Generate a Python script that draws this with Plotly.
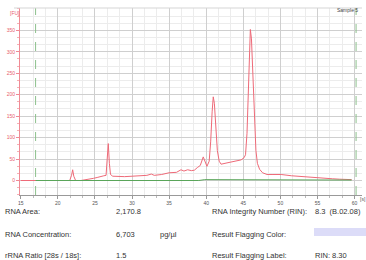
import plotly.graph_objects as go

# Electropherogram trace (time in s, fluorescence in FU)
time_s = [15.0, 17.0, 21.6, 21.85, 22.0, 22.15, 22.4, 23.1, 23.6, 24.2, 24.8, 25.3, 25.8,
          26.2, 26.5, 26.65, 26.8, 26.95, 27.1, 27.4, 28.0, 29.0, 30.0, 31.0, 32.0, 32.6,
          33.0, 34.0, 35.0, 36.0, 36.6, 37.0, 37.5, 38.0, 38.4, 38.8, 39.2, 39.6, 39.9,
          40.1, 40.4, 40.6, 40.8, 40.95, 41.1, 41.3, 41.5, 41.75, 42.0, 42.8, 43.5, 44.2,
          44.7, 45.1, 45.3, 45.5, 45.7, 45.85, 45.95, 46.1, 46.3, 46.5, 46.7, 46.9, 47.2,
          47.6, 48.2, 49.0, 50.1, 51.5, 52.8, 54.0, 55.0, 56.0, 57.0, 58.0, 58.6, 59.6]
fu = [0, 0, 0, 12, 25, 10, 0, 0, 1, 3, 5, 7, 10,
      11, 12, 45, 86, 40, 14, 10, 9, 9, 10, 11, 12, 15,
      12, 14, 18, 19, 25, 22, 25, 23, 24, 30, 35, 55, 40,
      33, 45, 90, 160, 195, 180, 120, 70, 45, 38, 41, 43, 45,
      48, 53, 60, 110, 220, 320, 352, 330, 230, 130, 70, 40, 26,
      18, 14, 14, 14, 11, 9, 7, 6, 5, 4, 3, 2, 2]

# Baseline
base_t = [17.0, 39.0, 39.8, 50.0, 59.6]
base_fu = [0, 0, 2, 2, 1]

# Alignment markers (dashed lines)
markers_s = [17.0, 60.2]

y_ticks = [0, 50, 100, 150, 200, 250, 300, 350]
x_ticks = [15, 20, 25, 30, 35, 40, 45, 50, 55, 60]

# Results table
left_labels = ["RNA Area:", "RNA Concentration:", "rRNA Ratio [28s / 18s]:"]
left_values = ["2,170.8", "6,703", "1.5"]
left_units = ["", "pg/µl", ""]
right_labels = ["RNA Integrity Number (RIN):", "Result Flagging Color:", "Result Flagging Label:"]
right_values = ["8.3  (B.02.08)", "", "RIN: 8.30"]

W, H = 366, 260
L, R, T, B = 20, 362, 8, 195

def px(x):
    return (x - L) / (R - L)

def py(y):
    return (B - y) / (B - T)

fig = go.Figure()
fig.add_trace(go.Scatter(x=time_s, y=fu, mode="lines",
                         line=dict(color="#ee6a78", width=1), showlegend=False))
fig.add_trace(go.Scatter(x=base_t, y=base_fu, mode="lines",
                         line=dict(color="#5aa55a", width=1), showlegend=False))
for m in markers_s:
    fig.add_vline(x=m, line=dict(color="#8cc08c", width=1, dash="dash"))

font = "Liberation Sans, Arial, sans-serif"
fig.update_layout(
    width=W, height=H,
    margin=dict(l=L, r=W - R, t=T, b=H - B, pad=0),
    paper_bgcolor="white", plot_bgcolor="white",
    font=dict(family=font, size=5, color="#444"),
    xaxis=dict(range=[14.9, 61.0], tickvals=x_ticks, showgrid=True,
               gridcolor="#cfcfcf", gridwidth=1, zeroline=False,
               showline=True, linecolor="#999", linewidth=1,
               ticks="outside", ticklen=3, tickcolor="#999",
               tickfont=dict(size=5, color="#555"),
               minor=dict(dtick=5 / 3, tick0=15, showgrid=True, gridcolor="#ececec",
                          ticks="outside", ticklen=2, tickcolor="#bbb")),
    yaxis=dict(range=[-33.8, 402], tickvals=y_ticks, showgrid=True,
               gridcolor="#cfcfcf", gridwidth=1, zeroline=False,
               showline=True, linecolor="#f08a94", linewidth=1,
               ticks="outside", ticklen=3, tickcolor="#f08a94",
               tickfont=dict(size=5, color="#e8606e"),
               minor=dict(dtick=50 / 3, tick0=0, showgrid=True, gridcolor="#ececec",
                          ticks="outside", ticklen=2, tickcolor="#f5b0b6")),
)

# frame top line
fig.add_shape(type="line", xref="paper", yref="paper", x0=px(14), x1=1, y0=1, y1=1,
              line=dict(color="#d5d5d5", width=1))

ann = []
ann.append(dict(x=px(8), y=py(13), text="[FU]", font=dict(size=5, color="#e8606e"),
                xanchor="left"))
ann.append(dict(x=px(360), y=py(10), text="Sample 5", font=dict(size=5, color="#444"),
                xanchor="right"))
ann.append(dict(x=px(358), y=py(199), text="[s]", font=dict(size=5, color="#555"),
                xanchor="left"))

rows_y = [212, 234, 255]
for i, yy in enumerate(rows_y):
    ann.append(dict(x=px(3), y=py(yy), text=left_labels[i], xanchor="left"))
    ann.append(dict(x=px(114), y=py(yy), text=left_values[i], xanchor="left"))
    if left_units[i]:
        ann.append(dict(x=px(158), y=py(yy), text=left_units[i], xanchor="left"))
    ann.append(dict(x=px(210), y=py(yy), text=right_labels[i], xanchor="left"))
    if right_values[i]:
        ann.append(dict(x=px(313), y=py(yy), text=right_values[i], xanchor="left"))

for a in ann:
    a.setdefault("font", dict(size=7.5, color="#333"))
    a.update(xref="paper", yref="paper", showarrow=False, yanchor="middle")
fig.update_layout(annotations=ann)

fig.add_shape(type="rect", xref="paper", yref="paper", x0=px(314), x1=px(366),
              y0=py(236), y1=py(228), fillcolor="#dcdcf8", line=dict(width=0))

fig.write_html("out.html", config={"displayModeBar": False},
               post_script="document.body.style.margin='0';document.body.style.padding='0';")
